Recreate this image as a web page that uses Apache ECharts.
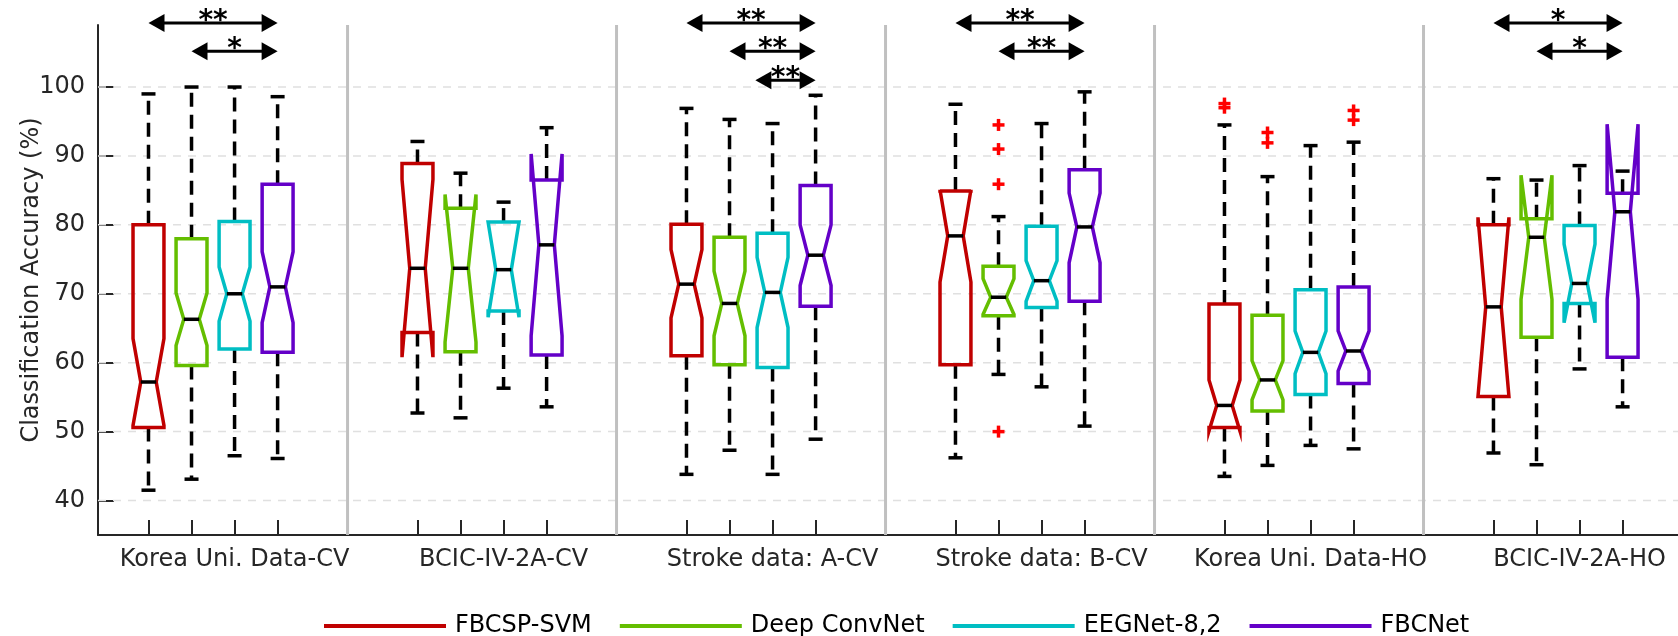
<!DOCTYPE html>
<html>
<head>
<meta charset="utf-8">
<script src="https://cdn.jsdelivr.net/npm/echarts@6/dist/echarts.min.js"></script>
<style>
  html, body { margin: 0; padding: 0; background: #fff; }
  #chart { width: 1678px; height: 636px; }
</style>
</head>
<body>
<div id="chart"></div>
<script>
// Dataset names (one group of boxes per dataset)
const categories = ['Korea Uni. Data-CV', 'BCIC-IV-2A-CV', 'Stroke data: A-CV',
                    'Stroke data: B-CV', 'Korea Uni. Data-HO', 'BCIC-IV-2A-HO'];
const methods = ['FBCSP-SVM', 'Deep ConvNet', 'EEGNet-8,2', 'FBCNet'];
const yTicks = [40, 50, 60, 70, 80, 90, 100];

// Per dataset: [lower whisker, Q1, median, Q3, upper whisker, notch low, notch high]
const fbcspSvm = [
  [41.5, 50.6, 57.2, 80.0, 99.0, 50.9, 63.5],
  [52.7, 64.4, 73.7, 88.9, 92.1, 60.8, 86.6],
  [43.8, 61.0, 71.4, 80.1, 96.9, 66.5, 76.4],
  [46.2, 59.7, 78.4, 84.9, 97.5, 71.7, 85.1],
  [43.5, 50.6, 53.8, 68.5, 94.5, 50.1, 57.5],
  [46.9, 55.1, 68.1, 80.0, 86.7, 55.1, 81.1]
];
const deepConvNet = [
  [43.1, 59.6, 66.3, 78.0, 100.0, 62.5, 70.1],
  [52.0, 61.6, 73.7, 82.4, 87.5, 63.0, 84.4],
  [47.3, 59.7, 68.6, 78.2, 95.3, 63.9, 73.3],
  [58.3, 66.8, 69.5, 74.0, 81.2, 67.0, 72.2],
  [45.1, 53.0, 57.5, 66.9, 87.0, 54.6, 60.3],
  [45.2, 63.7, 78.2, 80.9, 86.5, 69.2, 87.2]
];
const eegNet = [
  [46.5, 62.0, 70.0, 80.5, 100.0, 66.0, 73.9],
  [56.3, 67.5, 73.5, 80.4, 83.3, 66.6, 80.4],
  [43.8, 59.3, 70.2, 78.8, 94.7, 65.1, 75.3],
  [56.5, 68.0, 71.9, 79.8, 94.7, 68.9, 74.8],
  [48.0, 55.4, 61.5, 70.6, 91.5, 58.4, 64.6],
  [59.1, 68.6, 71.5, 79.9, 88.6, 65.8, 77.2]
];
const fbcNet = [
  [46.1, 61.5, 71.0, 85.9, 98.6, 65.8, 76.1],
  [53.6, 61.1, 77.1, 86.5, 94.1, 63.9, 90.3],
  [48.9, 68.2, 75.6, 85.7, 98.8, 71.2, 80.0],
  [50.8, 68.9, 79.7, 88.0, 99.3, 74.5, 84.6],
  [47.5, 57.0, 61.7, 71.0, 92.0, 58.8, 64.6],
  [53.6, 60.8, 81.9, 84.6, 87.8, 69.2, 94.6]
];

// Outliers: [dataset index, accuracy]
const fbcspSvmOutliers = [[4, 97.6], [4, 97.0]];
const deepConvNetOutliers = [[3, 94.5], [3, 91.0], [3, 85.9], [3, 50.0], [4, 93.4], [4, 91.9]];
const eegNetOutliers = [];
const fbcNetOutliers = [[4, 96.6], [4, 95.2]];

// Significance arrows: [dataset index, start (box slot), end (box slot), row]
const comparisons = [
  [0, 0, 3, 0], [0, 1, 3, 1],
  [2, 0, 3, 0], [2, 1, 3, 1], [2, 1.6, 3, 2],
  [3, 0, 3, 0], [3, 1, 3, 1],
  [5, 0, 3, 0], [5, 1, 3, 1]
];
const comparisonStars = ['**', '*', '**', '**', '**', '**', '**', '*', '*'];
const bracketRows = [109.3, 105.2, 101.0];

// ---- layout and style ----
const colors = ['#C00000', '#64BE00', '#00BEC3', '#6400C8'];
const BOX_STEP = 0.16;
const BOX_WIDTH = 0.115;
const LINE_W = 3.5;
const CAP_HALF = 7;
const FONT = 'DejaVu Sans';
const INK = '#262626';

const boxX = (g, m) => (g + 1) + (m - 1.5) * BOX_STEP;
const groupCenters = categories.map((_, g) => g + 1);
const labelPositions = categories.map((_, g) => boxX(g, 2));
const boxPositions = [];
categories.forEach((_, g) => methods.forEach((_, m) => boxPositions.push(boxX(g, m))));
const separators = groupCenters.slice(1).map(c => c - 0.5);

const allStats = [fbcspSvm, deepConvNet, eegNet, fbcNet];
const allOutliers = [fbcspSvmOutliers, deepConvNetOutliers, eegNetOutliers, fbcNetOutliers];

function renderBox(params, api) {
  const x = api.value(0);
  const [low, q1, med, q3, high, nLo, nHi] = [1, 2, 3, 4, 5, 6, 7].map(i => api.value(i));
  const Y = v => api.coord([x, v])[1];
  const cx = api.coord([x, med])[0];
  const halfW = api.size([BOX_WIDTH, 0])[0] / 2;
  const L = cx - halfW, R = cx + halfW, nl = cx - halfW / 2, nr = cx + halfW / 2;
  const color = api.visual('color');
  const dashed = { stroke: '#000', lineWidth: LINE_W, lineDash: [14, 8] };
  const solid = { stroke: '#000', lineWidth: LINE_W };
  return {
    type: 'group',
    children: [
      { type: 'line', shape: { x1: cx, y1: Y(q3), x2: cx, y2: Y(high) }, style: dashed },
      { type: 'line', shape: { x1: cx, y1: Y(q1), x2: cx, y2: Y(low) }, style: dashed },
      { type: 'line', shape: { x1: cx - CAP_HALF, y1: Y(high), x2: cx + CAP_HALF, y2: Y(high) }, style: solid },
      { type: 'line', shape: { x1: cx - CAP_HALF, y1: Y(low), x2: cx + CAP_HALF, y2: Y(low) }, style: solid },
      {
        type: 'polygon',
        shape: {
          points: [[L, Y(q1)], [L, Y(nLo)], [nl, Y(med)], [L, Y(nHi)], [L, Y(q3)],
                   [R, Y(q3)], [R, Y(nHi)], [nr, Y(med)], [R, Y(nLo)], [R, Y(q1)]]
        },
        style: { fill: 'none', stroke: color, lineWidth: LINE_W }
      },
      { type: 'line', shape: { x1: nl, y1: Y(med), x2: nr, y2: Y(med) }, style: solid }
    ]
  };
}

function renderOutlier(params, api) {
  const p = api.coord([api.value(0), api.value(1)]);
  const s = 6;
  const st = { stroke: '#FF0000', lineWidth: 3.5 };
  return {
    type: 'group',
    children: [
      { type: 'line', shape: { x1: p[0] - s, y1: p[1], x2: p[0] + s, y2: p[1] }, style: st },
      { type: 'line', shape: { x1: p[0], y1: p[1] - s, x2: p[0], y2: p[1] + s }, style: st }
    ]
  };
}

function renderGridLine(params, api) {
  const cs = params.coordSys;
  const y = api.coord([api.value(0), api.value(1)])[1];
  return {
    type: 'line',
    shape: { x1: cs.x, y1: y, x2: cs.x + cs.width, y2: y },
    style: { stroke: '#E0E0E0', lineWidth: 1.5, lineDash: [8, 7] }
  };
}

function renderSeparator(params, api) {
  const cs = params.coordSys;
  const x = api.coord([api.value(0), api.value(1)])[0];
  return {
    type: 'line',
    shape: { x1: x, y1: cs.y, x2: x, y2: cs.y + cs.height },
    style: { stroke: '#C0C0C0', lineWidth: 3 }
  };
}

function renderBracket(params, api) {
  const g = api.value(0), from = api.value(1), to = api.value(2), row = api.value(3);
  const p1 = api.coord([boxX(g, from), bracketRows[row]]);
  const p2 = api.coord([boxX(g, to), bracketRows[row]]);
  const x1 = p1[0], x2 = p2[0], y = p1[1];
  const hl = 16, hw = 9;
  return {
    type: 'group',
    children: [
      { type: 'line', shape: { x1: x1 + hl - 2, y1: y, x2: x2 - hl + 2, y2: y }, style: { stroke: '#000', lineWidth: 3 } },
      { type: 'polygon', shape: { points: [[x1, y], [x1 + hl, y - hw], [x1 + hl, y + hw]] }, style: { fill: '#000' } },
      { type: 'polygon', shape: { points: [[x2, y], [x2 - hl, y - hw], [x2 - hl, y + hw]] }, style: { fill: '#000' } },
      {
        type: 'text',
        style: {
          x: (x1 + x2) / 2, y: y - 1, text: comparisonStars[params.dataIndex],
          fill: '#000', fontSize: 28, fontWeight: 'bold', fontFamily: FONT,
          align: 'center', verticalAlign: 'middle'
        }
      }
    ]
  };
}

const series = [
  {
    type: 'custom', name: 'grid', silent: true, z: 1,
    data: yTicks.map(v => [1, v]),
    renderItem: renderGridLine
  },
  {
    type: 'custom', name: 'separators', silent: true, z: 2,
    data: separators.map(x => [x, 70]),
    renderItem: renderSeparator
  }
];

methods.forEach((name, m) => {
  series.push({
    type: 'custom', name: name, z: 3,
    itemStyle: { color: colors[m] },
    data: allStats[m].map((s, g) => [boxX(g, m)].concat(s)),
    renderItem: renderBox
  });
});

methods.forEach((name, m) => {
  series.push({
    type: 'custom', name: name + ' outliers', z: 4, silent: true,
    data: allOutliers[m].map(o => [boxX(o[0], m), o[1]]),
    renderItem: renderOutlier
  });
});

series.push({
  type: 'custom', name: 'significance', z: 5, silent: true,
  data: comparisons,
  renderItem: renderBracket
});

const chart = echarts.init(document.getElementById('chart'), null, { renderer: 'canvas' });
chart.setOption({
  animation: false,
  backgroundColor: '#fff',
  textStyle: { fontFamily: FONT },
  grid: { left: 98, right: 0, top: 25, bottom: 101, containLabel: false },
  legend: {
    data: methods,
    left: 319, top: 609,
    icon: 'rect', itemWidth: 122, itemHeight: 4, itemGap: 28,
    textStyle: { fontSize: 24, color: '#000', fontFamily: FONT, padding: [0, 0, 0, 4] }
  },
  xAxis: {
    type: 'value', min: 0.5723, max: 6.446,
    axisLine: { show: true, lineStyle: { color: INK, width: 2 } },
    axisTick: { show: true, inside: true, length: 15, lineStyle: { color: INK, width: 2 }, customValues: boxPositions },
    axisLabel: {
      customValues: labelPositions, margin: 13, fontSize: 24, color: INK, fontFamily: FONT,
      formatter: v => categories[Math.round(v) - 1]
    },
    splitLine: { show: false }
  },
  yAxis: {
    type: 'value', min: 35, max: 109,
    name: 'Classification Accuracy (%)', nameLocation: 'middle', nameGap: 54, nameRotate: 90,
    nameMoveOverlap: false,
    nameTextStyle: { fontSize: 24, color: INK, fontFamily: FONT },
    axisLine: { show: true, lineStyle: { color: INK, width: 2 } },
    axisTick: { show: true, inside: true, length: 16, lineStyle: { color: INK, width: 2 }, customValues: yTicks },
    axisLabel: { customValues: yTicks, margin: 13, fontSize: 24, color: INK, fontFamily: FONT },
    splitLine: { show: false }
  },
  series: series
});
</script>
</body>
</html>
